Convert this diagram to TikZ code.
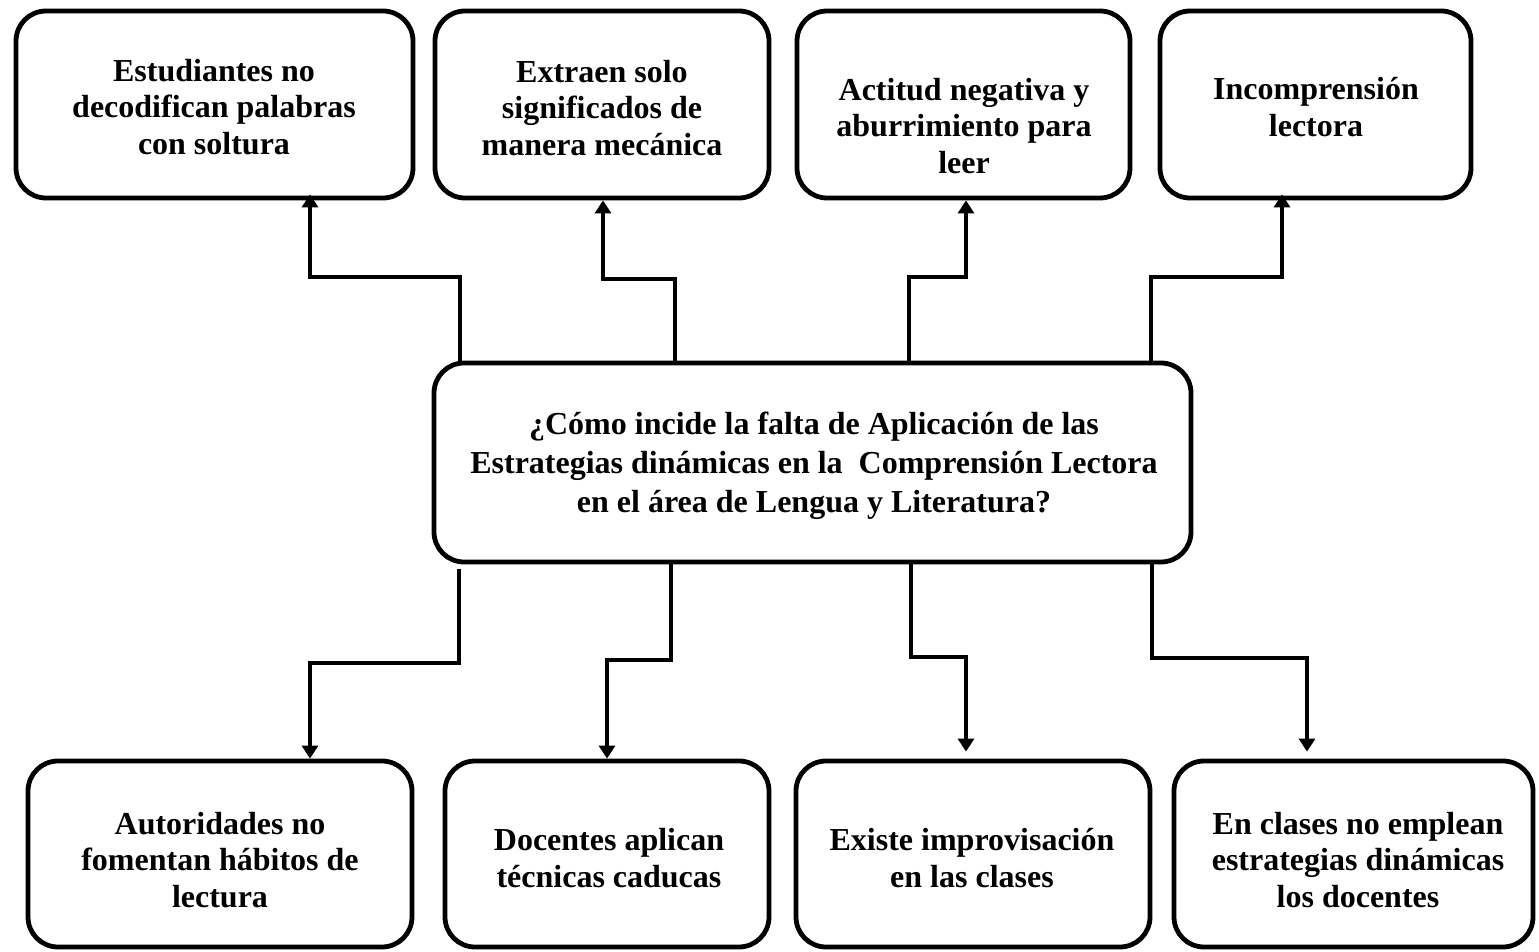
\documentclass[tikz,border=0pt]{standalone}
\usepackage{fontspec}
\setmainfont{Liberation Serif}
\usetikzlibrary{arrows.meta,calc}
\begin{document}
\begin{tikzpicture}[x=0.5pt,y=-0.5pt,
  box/.style={draw,line width=2.4pt,rounded corners=15pt,inner sep=0pt},
  lbl/.style={align=center,font=\bfseries\fontsize{16}{18.25}\selectfont,inner sep=0pt},
  big/.style={align=center,font=\bfseries\fontsize{16}{19.5}\selectfont,inner sep=0pt},
  arr/.style={line width=2pt,-{Triangle[width=8pt,length=6.5pt]}}]
\useasboundingbox (0,0) rectangle (1539,952);
% top boxes
\node[box,minimum width=198.5pt,minimum height=93.5pt] (T1) at (214.5,104.5) {};
\node[box,minimum width=167pt,minimum height=93.5pt] (T2) at (602,104.5) {};
\node[box,minimum width=166.5pt,minimum height=93.5pt] (T3) at (963.5,104.5) {};
\node[box,minimum width=155.5pt,minimum height=93.5pt] (T4) at (1315.5,104.5) {};
% centre box
\node[box,minimum width=378.5pt,minimum height=99.5pt] (C) at (812.5,462.5) {};
% bottom boxes
\node[box,minimum width=192pt,minimum height=93pt] (B1) at (220,854) {};
\node[box,minimum width=162pt,minimum height=93pt] (B2) at (607,854) {};
\node[box,minimum width=177pt,minimum height=93pt] (B3) at (973,854) {};
\node[box,minimum width=179.5pt,minimum height=93pt] (B4) at (1353.5,854) {};
% texts
\node[lbl] (t1) at (214,107) {Estudiantes no\\decodifican palabras\\con soltura};
\node[lbl] (t2) at (602,108) {Extraen solo\\significados de\\manera mecánica};
\node[lbl] (t3) at (964,126) {Actitud negativa y\\aburrimiento para\\leer};
\node[lbl] (t4) at (1316,107) {Incomprensión\\lectora};
\node[big] (tc) at (814,466) {¿Cómo incide la falta de Aplicación de las\\Estrategias dinámicas en la\ \ Comprensión Lectora\\en el área de Lengua y Literatura?};
\node[lbl] (s1) at (220,860) {Autoridades no\\fomentan hábitos de\\lectura};
\node[lbl] (s2) at (609,858) {Docentes aplican\\técnicas caducas};
\node[lbl] (s3) at (972,858) {Existe improvisación\\en las clases};
\node[lbl] (s4) at (1358,860) {En clases no emplean\\estrategias dinámicas\\los docentes};
% bend points
\coordinate (u1a) at (460,277); \coordinate (u1b) at (310,277);
\coordinate (u2a) at (675,279); \coordinate (u2b) at (603,279);
\coordinate (u3a) at (909,277); \coordinate (u3b) at (966,277);
\coordinate (u4a) at (1151,277); \coordinate (u4b) at (1282,277);
\coordinate (d1a) at (459,663); \coordinate (d1b) at (310,663);
\coordinate (d2a) at (671,660); \coordinate (d2b) at (607,660);
\coordinate (d3a) at (911,657); \coordinate (d3b) at (966,657);
\coordinate (d4a) at (1152,658); \coordinate (d4b) at (1307,658);
% connectors up
\draw[arr,shorten >=-3pt] (C.north -| u1a) -- (u1a) -- (u1b) -- (T1.south -| u1b);
\draw[arr] (C.north -| u2a) -- (u2a) -- (u2b) -- (T2.south -| u2b);
\draw[arr] (C.north -| u3a) -- (u3a) -- (u3b) -- (T3.south -| u3b);
\draw[arr,shorten >=-3pt] (C.north -| u4a) -- (u4a) -- (u4b) -- (T4.south -| u4b);
% connectors down
\draw[arr,shorten <=2.5pt] (C.south -| d1a) -- (d1a) -- (d1b) -- (B1.north -| d1b);
\draw[arr] (C.south -| d2a) -- (d2a) -- (d2b) -- (B2.north -| d2b);
\draw[arr,shorten >=3.5pt] (C.south -| d3a) -- (d3a) -- (d3b) -- (B3.north -| d3b);
\draw[arr,shorten >=3.5pt] (C.south -| d4a) -- (d4a) -- (d4b) -- (B4.north -| d4b);
\end{tikzpicture}
\end{document}
